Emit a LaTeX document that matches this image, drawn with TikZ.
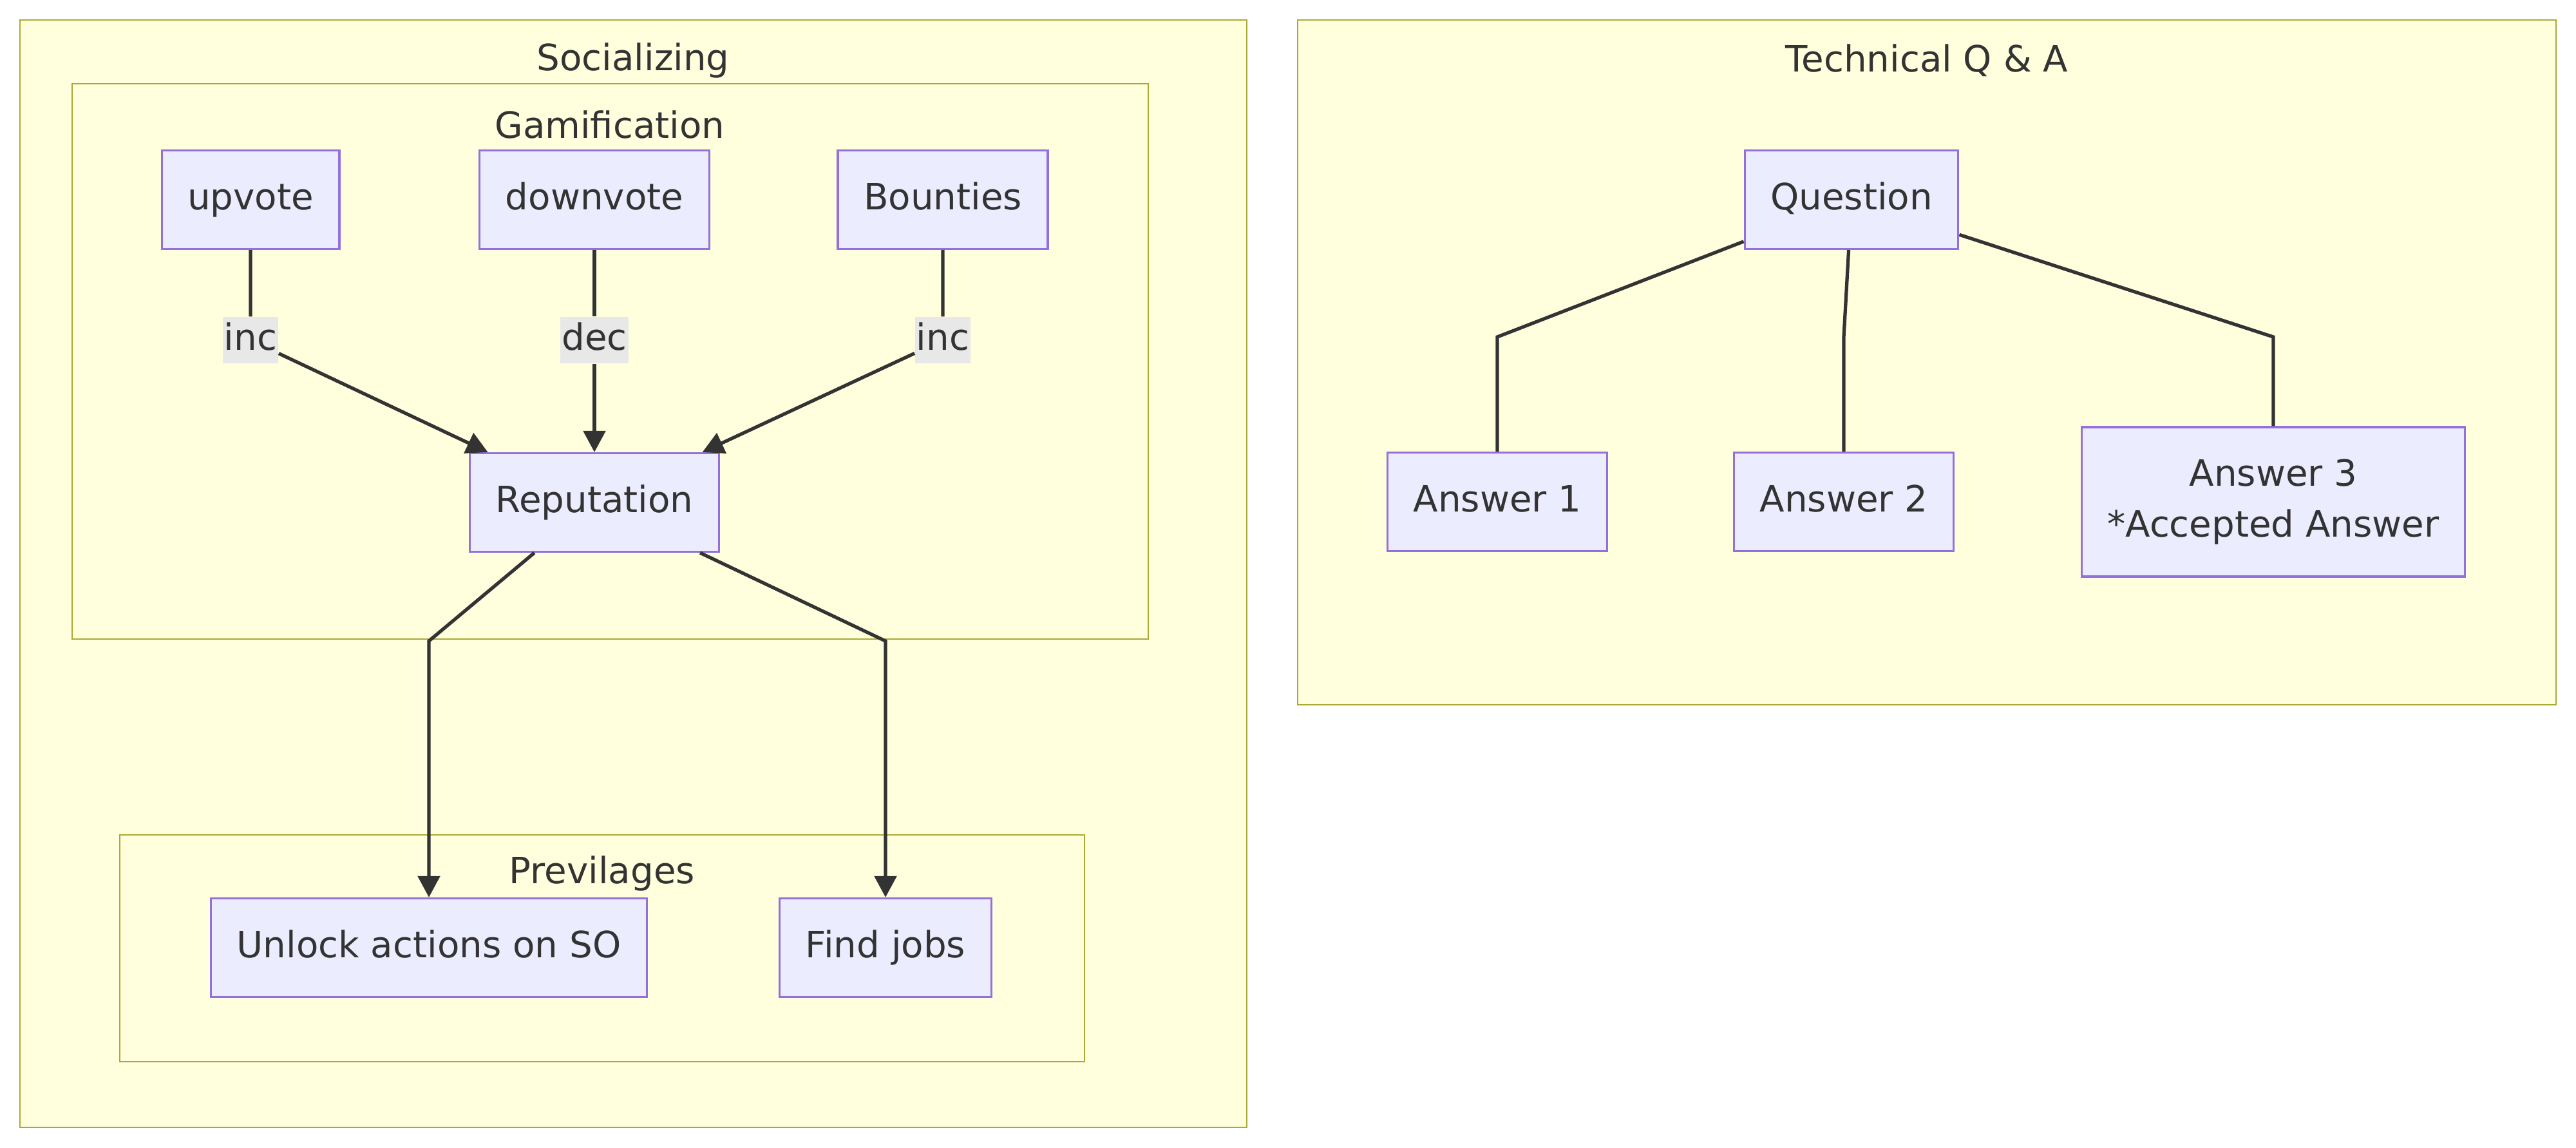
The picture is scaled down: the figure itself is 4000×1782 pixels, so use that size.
\documentclass[tikz,border=0pt]{standalone}
\usepackage{fontspec}
\setmainfont{DejaVu Sans}
\usetikzlibrary{arrows.meta}

\definecolor{clusterfill}{HTML}{FFFFDE}
\definecolor{clusterline}{HTML}{AAAA33}
\definecolor{nodefill}{HTML}{ECECFF}
\definecolor{nodeline}{HTML}{9370DB}
\definecolor{inkcolor}{HTML}{333333}
\definecolor{labelfill}{HTML}{E8E8E8}

\tikzset {
  % subgraph frame
  cluster/.style = {
    draw = clusterline,
    fill = clusterfill,
    line width = 0.8pt
  },
  cluster title/.style = {
    text = inkcolor,
    inner sep = 0
  },
  % process box
  flow node/.style = {
    draw = nodeline,
    fill = nodefill,
    text = inkcolor,
    line width = 0.9pt,
    rectangle,
    inner xsep = 0.4cm,
    inner ysep = 0,
    text height = 1em,
    text depth = 0.12em,
    minimum height = 1.53cm
  },
  % text on a connector
  link label/.style = {
    fill = labelfill,
    text = inkcolor,
    inner xsep = 0.02cm,
    inner ysep = 0,
    text height = 1em,
    text depth = 0.12em,
    minimum height = 0.72cm
  }
}
\tikzset {
  % path style with no arrows
  link/.style = {
    draw = inkcolor,
    line width = 1.5pt
  },
  % path style with an arrow at the end
  arr/.style = {
    link,
    -{Triangle[length = 0.33cm, width = 0.34cm]}
  }
}

\begin{document}
\begin{tikzpicture}[x = 0.01cm, y = -0.01cm, font = \fontsize{16}{22.4}\selectfont]
  \useasboundingbox[fill = white] (0,0) rectangle (4000,1782);

  % subgraphs
  \draw[cluster] (31,31) rectangle (1936,1750);
  \draw[cluster] (112,130) rectangle (1783,992);
  \draw[cluster] (186,1296) rectangle (1684,1648);
  \draw[cluster] (2015,31) rectangle (3969,1094);

  \node[cluster title] (social-title) at (983,94) {Socializing};
  \node[cluster title] (game-title) at (947,194) {Gamification};
  \node[cluster title] (prev-title) at (935,1356) {Previlages};
  \node[cluster title] (qa-title) at (2992,94) {Technical Q \& A};

  % Gamification
  \node[flow node] (upvote) at (389,310) {upvote};
  \node[flow node] (downvote) at (923,310) {downvote};
  \node[flow node] (bounties) at (1464,310) {Bounties};
  \node[flow node] (reputation) at (923,780) {Reputation};

  \node[link label] (inc-up) at (389,528) {inc};
  \node[link label] (dec-down) at (923,528) {dec};
  \node[link label] (inc-bounty) at (1464,528) {inc};

  % Previlages
  \node[flow node] (unlock) at (666,1471) {Unlock actions on SO};
  \node[flow node] (jobs) at (1375,1471) {Find jobs};
  \coordinate (unlock-bend) at (666,995);
  \coordinate (jobs-bend) at (1375,995);

  \draw[arr] (upvote) -- (inc-up) -- (reputation);
  \draw[arr] (downvote) -- (dec-down) -- (reputation);
  \draw[arr] (bounties) -- (inc-bounty) -- (reputation);

  \draw[arr] (reputation) -- (unlock-bend) -- (unlock);
  \draw[arr] (reputation) -- (jobs-bend) -- (jobs);

  % Technical Q & A
  \node[flow node] (question) at (2875,310) {Question};
  \node[flow node] (answer1) at (2325,779) {Answer 1};
  \node[flow node] (answer2) at (2863,779) {Answer 2};
  \node[flow node, align = center, text height = {}, text depth = {},
    minimum height = 2.32cm] (answer3)
    at (3530,779) {Answer 3\\{*}Accepted Answer};
  \coordinate (answer1-bend) at (2325,523);
  \coordinate (answer2-bend) at (2863,523);
  \coordinate (answer3-bend) at (3530,523);

  \draw[link] (question) -- (answer1-bend) -- (answer1);
  \draw[link] (question) -- (answer2-bend) -- (answer2);
  \draw[link] (question) -- (answer3-bend) -- (answer3);

\end{tikzpicture}
\end{document}
